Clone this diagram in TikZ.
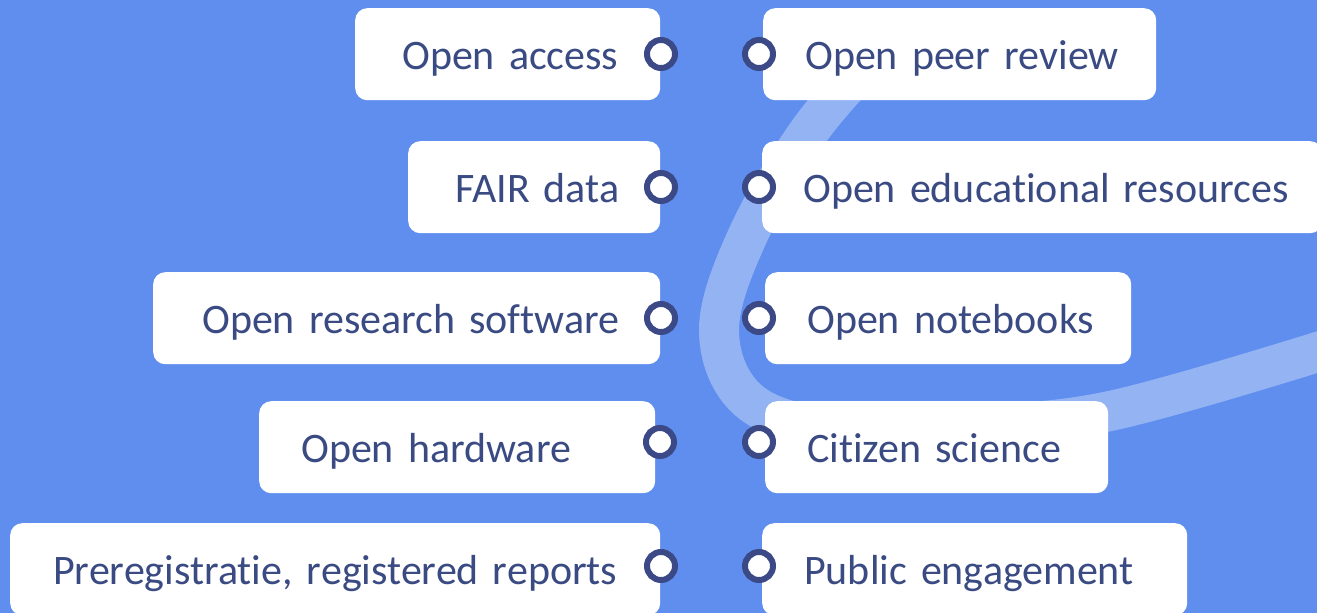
\documentclass[tikz,border=0pt]{standalone}
\usepackage{fontspec}
\setmainfont{Carlito}[Ligatures=NoCommon]
\definecolor{bg}{HTML}{5F8EEE}
\definecolor{navy}{HTML}{3A4A82}
\definecolor{ringc}{HTML}{3B4A86}
\tikzset{
  box/.style={fill=white, rounded corners=12pt, anchor=north west, minimum height=92pt,
    align=left, inner ysep=0pt, text height=36pt, text depth=6pt, text=navy,
    font=\fontsize{42}{48}\selectfont},
  ring/.style={circle, draw=ringc, line width=6pt, fill=white, minimum size=28pt, inner sep=0pt},
  swoosh/.style={white, opacity=0.33, line width=40pt, line cap=round}
}
\begin{document}
\begin{tikzpicture}[x=1pt,y=-1pt]
\fill[bg] (0,0) rectangle (1317,613);
\useasboundingbox (0,0) rectangle (1317,613);
% swoosh band
\draw[swoosh] plot[smooth, tension=0.6] coordinates {(880,50) (810,130) (748,235) (719,330) (748,400) (830,428) (960,425) (1110,411) (1340,345)};
% left boxes
\node[box, inner xsep=47pt, text width=211pt] (oa) at (355,8) {\mbox{Open access}};
\node[box, inner xsep=47pt, text width=158pt] (fair) at (408,141) {\mbox{FAIR data}};
\node[box, inner xsep=49pt, text width=409pt] (ors) at (153,272) {\mbox{Open research software}};
\node[box, inner xsep=42pt, text width=312pt] (oh) at (259,401) {\mbox{Open hardware}};
\node[box, inner xsep=43pt, text width=564pt] (prr) at (10,523) {\mbox{Preregistratie, registered reports}};
% right boxes
\node[box, inner xsep=42pt, text width=309pt] (opr) at (763,8) {\mbox{Open peer review}};
\node[box, inner xsep=41pt, text width=478pt] (oer) at (762,141) {\mbox{Open educational resources}};
\node[box, inner xsep=42pt, text width=282pt] (onb) at (765,272) {\mbox{Open notebooks}};
\node[box, inner xsep=42pt, text width=259pt] (cs) at (765,401) {\mbox{Citizen science}};
\node[box, inner xsep=42pt, text width=341pt] (pe) at (762,523) {\mbox{Public engagement}};
% rings
\node[ring] (roa) at (661,54) {};
\node[ring] (rfair) at (661,187) {};
\node[ring] (rors) at (661,318) {};
\node[ring] (roh) at (660,442) {};
\node[ring] (rprr) at (661,566) {};
\node[ring] (ropr) at (759,54) {};
\node[ring] (roer) at (759,187) {};
\node[ring] (ronb) at (759,318) {};
\node[ring] (rcs) at (759,442) {};
\node[ring] (rpe) at (759,566) {};
\end{tikzpicture}
\end{document}
